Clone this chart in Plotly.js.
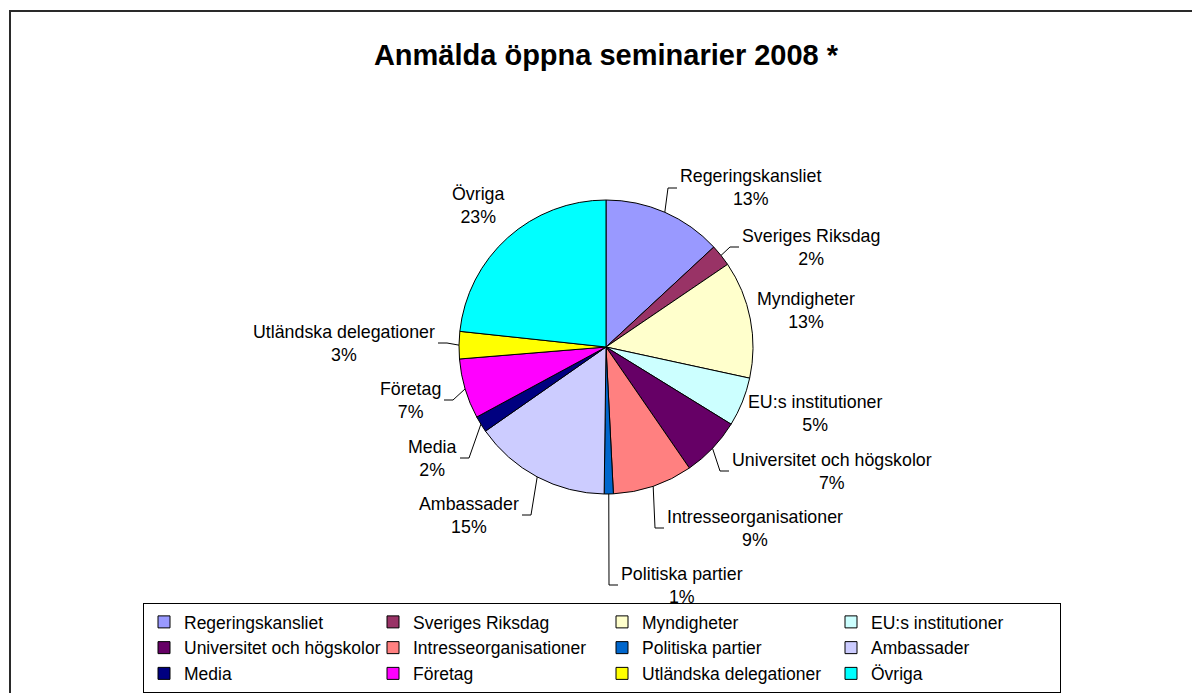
<!DOCTYPE html>
<html><head><meta charset="utf-8">
<script src="https://cdn.plot.ly/plotly-3.0.1.min.js"></script>
<style>html,body{margin:0;padding:0;background:#fff}#chart{width:1192px;height:693px}</style>
</head><body><div id="chart"></div>
<script>
// ---- data ----
const categories = ["Regeringskansliet","Sveriges Riksdag","Myndigheter","EU:s institutioner","Universitet och högskolor","Intresseorganisationer","Politiska partier","Ambassader","Media","Företag","Utländska delegationer","Övriga"];
const shares = [13.1, 2.4, 12.9, 5.4, 6.6, 8.8, 1.0, 15.1, 1.8, 6.6, 3.0, 23.3];
const chartTitle = "Anmälda öppna seminarier 2008 *";

// ---- style / layout ----
const colors = ["#9999FF","#993366","#FFFFCC","#CCFFFF","#660066","#FF8080","#0066CC","#CCCCFF","#000080","#FF00FF","#FFFF00","#00FFFF"];
const FONT = "Liberation Sans, Arial, sans-serif";
const W = 1192, H = 693, M = {l:100, r:92, t:0, b:0};
const pieCx = 606, pieCy = 347, pieR = 147;
// label placement in pixels: [edge x nearest the pie, centre y, side, leader line]
const labelPlace = [
  [680,188,'left',true], [742,247,'left',true], [757,310,'left',false], [748,413,'left',false],
  [732,471,'left',true], [667,528,'left',true], [621,585,'left',true], [519,515,'right',true],
  [457,458,'right',true], [441,400,'right',true], [435,343,'right',true], [478,205,'center',false]
];
const px = x => (x - M.l) / (W - M.l - M.r);
const py = y => (H - M.b - y) / (H - M.t - M.b);

const total = shares.reduce((a,b)=>a+b, 0);
const annotations = [], shapes = [];
shapes.push({type:'rect', xref:'paper', yref:'paper', x0:px(10), x1:px(1210), y0:py(11), y1:py(760),
  line:{color:'#2a2a2a', width:2}, layer:'below'});
let cum = 0;
shares.forEach((v,i)=>{
  const mid = (cum + v/2) / total * 2 * Math.PI; cum += v;
  const ex = pieCx + pieR*Math.sin(mid), ey = pieCy - pieR*Math.cos(mid);
  const [lx, ly, side, leader] = labelPlace[i];
  const dir = side === 'left' ? 1 : (side === 'right' ? -1 : 0);
  annotations.push({xref:'paper', yref:'paper', x:px(lx - dir*2), y:py(ly), xanchor:side, yanchor:'middle',
    showarrow:false, align:'center',
    text: categories[i] + '<br>' + Math.round(v/total*100) + '%',
    font:{family:FONT, size:17.8, color:'#000'}});
  if (leader) {
    shapes.push({type:'path', xref:'paper', yref:'paper',
      path:`M${px(ex)},${py(ey)} L${px(lx - dir*12)},${py(ly)} L${px(lx - dir*3)},${py(ly)}`,
      line:{color:'#000', width:1}});
  }
});

const trace = {
  type:'pie', labels:categories, values:shares, sort:false, direction:'clockwise', rotation:0,
  marker:{colors:colors, line:{color:'#000', width:1}},
  textinfo:'none', hoverinfo:'label+percent',
  domain:{x:[px(pieCx-pieR), px(pieCx+pieR)], y:[py(pieCy+pieR), py(pieCy-pieR)]}
};

const layout = {
  width:W, height:H, margin:{l:M.l, r:M.r, t:M.t, b:M.b, autoexpand:false},
  paper_bgcolor:'#fff', plot_bgcolor:'#fff',
  font:{family:FONT, color:'#000'},
  title:{text:chartTitle, xref:'paper', x:px(606), xanchor:'center', yref:'container', y:1-55/H, yanchor:'middle',
    font:{family:FONT, size:29, weight:'bold', color:'#000'}},
  showlegend:true,
  legend:{orientation:'h', x:px(143), xanchor:'left', y:py(603), yanchor:'top',
    entrywidth:184, entrywidthmode:'pixels', traceorder:'normal',
    bordercolor:'#000', borderwidth:1, bgcolor:'#fff',
    font:{family:FONT, size:17.5, color:'#000'}},
  annotations:annotations, shapes:shapes
};
Plotly.newPlot('chart', [trace], layout, {displayModeBar:false, staticPlot:true});
</script></body></html>
